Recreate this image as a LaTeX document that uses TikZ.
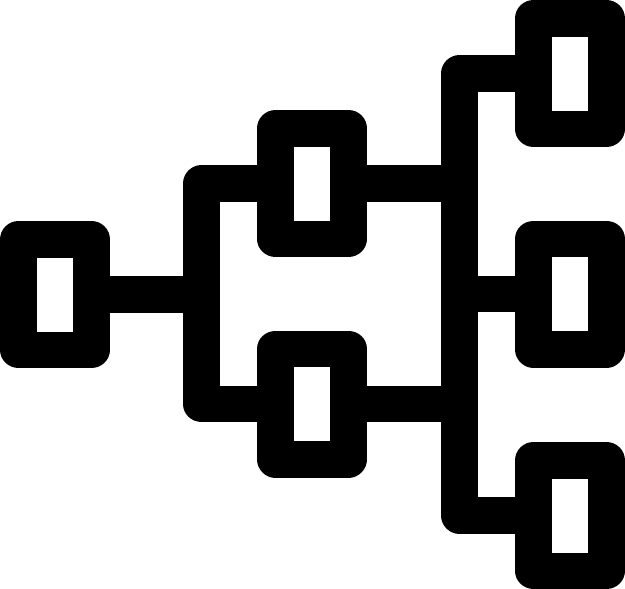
\documentclass[tikz,border=0pt]{standalone}
\begin{document}
\begin{tikzpicture}[x=1pt,y=-1pt,
		box/.style={draw=black, fill=white, line width=36.5pt, line join=round, minimum width=73pt, minimum height=110.5pt, inner sep=0pt},
		link/.style={draw=black, line width=36.5pt, line join=round}]
		\useasboundingbox (0,0) rectangle (625,589);

		% Boxes
		\node[box] (root) at (55,294.5) {};
		\node[box] (mt) at (312,183.5) {};
		\node[box] (mb) at (312,404) {};
		\node[box] (rt) at (570,73.5) {};
		\node[box] (rm) at (570,294) {};
		\node[box] (rb) at (570,515.5) {};

		% Joints of the tree
		\coordinate (jl) at (201.5,294.5);
		\coordinate (jr) at (459.5,294);

		% Connectors
		\draw[link] (mt.west) -| (jl) |- (mb.west);
		\draw[link] (root.east) -- (jl);
		\draw[link] (rt.west) -| (jr) |- (rb.west);
		\draw[link] (rm.west) -- (jr);
		\draw[link] (mt.east) -| (jr);
		\draw[link] (mb.east) -| (jr);
	\end{tikzpicture}
\end{document}
